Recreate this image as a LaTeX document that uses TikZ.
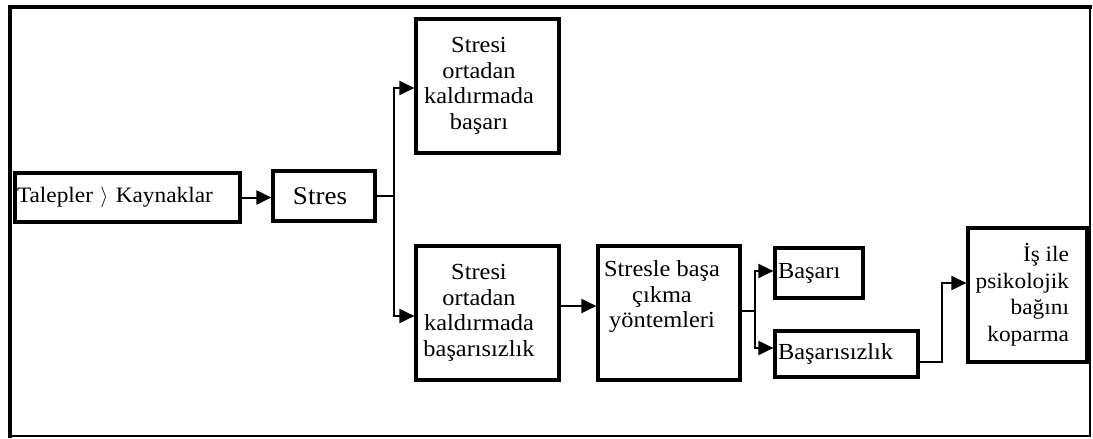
\documentclass[tikz,border=0pt]{standalone}
\usepackage{fontspec}
\setmainfont{Liberation Serif}[FakeStretch=1.06]
\usetikzlibrary{arrows.meta}
\tikzset{
  box/.style={draw, line width=3.2pt, inner sep=0pt, font=\fontsize{23}{25.5}\selectfont},
  conn/.style={line width=2pt},
  arr/.style={conn, -{Triangle[length=15pt,width=14pt]}}
}
\begin{document}
\begin{tikzpicture}[x=1pt,y=-1pt]
\useasboundingbox (0,0) rectangle (1093,439);
\draw[line width=4pt, line cap=rect] (10,436) -- (10,7) -- (1090,7);
\draw[line width=2.5pt, line cap=rect] (1090,7) -- (1090,436) -- (10,436);

\node[box, font=\fontsize{22}{25.5}\selectfont, minimum width=225pt, minimum height=49pt, text width=221pt, inner xsep=2pt, align=left] (tal) at (127.5,197.5) {Talepler $\rangle$ Kaynaklar};
\node[box, font=\fontsize{25.5}{28}\selectfont, minimum width=102pt, minimum height=50pt] (st) at (324,196) {\parbox{102pt}{\centering\rightskip=8pt plus 1fil Stres}};
\node[box, minimum width=143pt, minimum height=134pt] (top) at (487.5,86) {\parbox{143pt}{\centering\rightskip=17pt plus 1fil Stresi\\ortadan\\kaldırmada\\başarı}};
\node[box, minimum width=143pt, minimum height=134pt] (bot) at (487.5,313) {\parbox{143pt}{\centering\rightskip=17pt plus 1fil Stresi\\ortadan\\kaldırmada\\başarısızlık}};
\node[box, minimum width=142pt, minimum height=134pt] (sbc) at (669,313) {\parbox[c][104pt][t]{142pt}{\centering\rightskip=14pt plus 1fil Stresle başa\\çıkma\\yöntemleri}};
\node[box, minimum width=88pt, minimum height=50pt, text width=82pt, inner xsep=3pt, align=left] (bas) at (819,273) {Başarı};
\node[box, minimum width=143pt, minimum height=46pt, text width=137pt, inner xsep=3pt, align=left] (basz) at (846.5,354) {Başarısızlık};
\node[box, font=\fontsize{22}{26.5}\selectfont, minimum width=119pt, minimum height=134pt] (is) at (1027.5,295) {\parbox{119pt}{\raggedleft\rightskip=18pt İş ile\\psikolojik\\bağını\\koparma}};

\draw[arr] (tal.east) -- (tal.east -| st.west);
\coordinate (j1) at (394,196);
\draw[conn] (st.east) -- (j1);
\draw[arr] (j1) |- ([yshift=-2pt]top.west);
\draw[arr] (j1) |- ([yshift=-3pt]bot.west);
\draw[arr] ([yshift=7pt]bot.east) -- ([yshift=7pt]bot.east -| sbc.west);
\coordinate (j2) at (755,311);
\draw[conn] ([yshift=2pt]sbc.east) -- (j2);
\draw[arr] (j2) |- ([yshift=2pt]bas.west);
\draw[arr] (j2) |- ([yshift=6pt]basz.west);
\coordinate (j3) at (942,362);
\draw[arr] ([yshift=-8pt]basz.east) -- (j3) |- ([yshift=12pt]is.west);
\end{tikzpicture}
\end{document}
